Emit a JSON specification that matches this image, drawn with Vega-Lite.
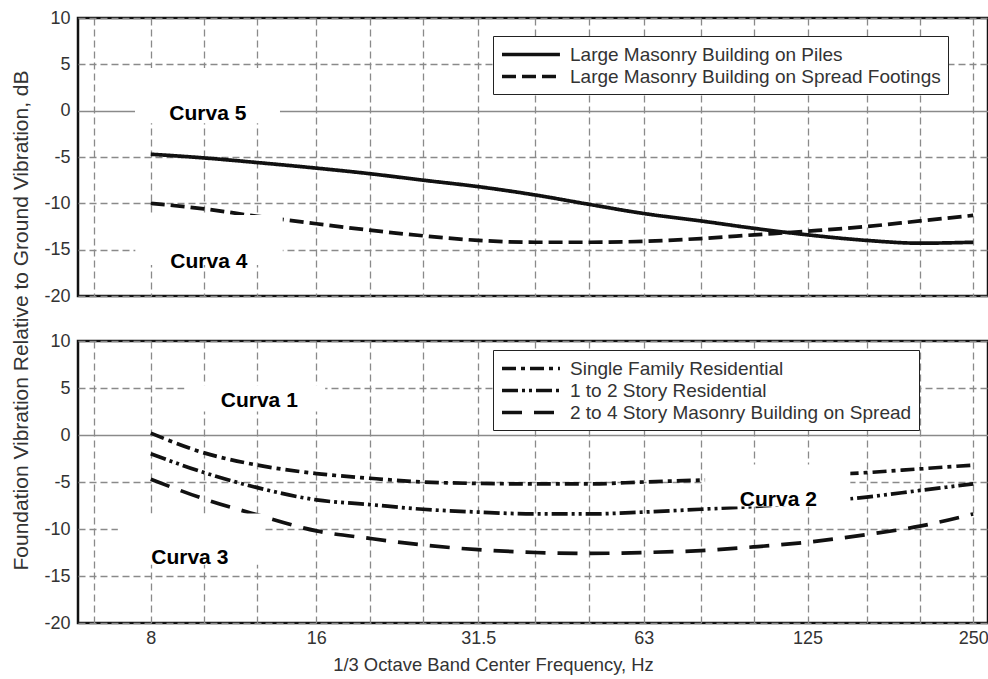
{
  "$schema": "https://vega.github.io/schema/vega-lite/v6.json",
  "padding": {"left": 8, "top": 7, "right": 3, "bottom": 5},
  "background": "white",
  "config": {
    "font": "Liberation Sans",
    "view": {"stroke": "#111", "strokeWidth": 2.5},
    "axis": {
      "labelFont": "Liberation Sans", "labelFontSize": 18, "labelColor": "#333",
      "ticks": false, "domain": false, "gridColor": "#8a8a8a", "gridWidth": 1.3,
      "titleFont": "Liberation Sans", "titleFontWeight": "normal", "titleColor": "#333",
      "labelOverlap": false, "labelFlush": false
    },
    "legend": {
      "orient": "none", "legendX": 415, "title": null,
      "symbolType": "M-1,0H5.1", "symbolSize": 361, "symbolStrokeWidth": 3.5, "symbolStrokeColor": "#111",
      "labelFont": "Liberation Sans", "labelFontSize": 19, "labelColor": "#333", "labelOffset": 47, "labelLimit": 700,
      "rowPadding": 0, "padding": 7, "strokeColor": "#222", "fillColor": "white"
    }
  },
  "datasets": {
    "curves": [
      {"panel":"top","series":"Large Masonry Building on Piles","freq":8,"db":-4.7},
      {"panel":"top","series":"Large Masonry Building on Piles","freq":10,"db":-5.1},
      {"panel":"top","series":"Large Masonry Building on Piles","freq":12.5,"db":-5.6},
      {"panel":"top","series":"Large Masonry Building on Piles","freq":16,"db":-6.2},
      {"panel":"top","series":"Large Masonry Building on Piles","freq":20,"db":-6.8},
      {"panel":"top","series":"Large Masonry Building on Piles","freq":25,"db":-7.5},
      {"panel":"top","series":"Large Masonry Building on Piles","freq":31.5,"db":-8.2},
      {"panel":"top","series":"Large Masonry Building on Piles","freq":40,"db":-9.1},
      {"panel":"top","series":"Large Masonry Building on Piles","freq":50,"db":-10.1},
      {"panel":"top","series":"Large Masonry Building on Piles","freq":63,"db":-11.1},
      {"panel":"top","series":"Large Masonry Building on Piles","freq":80,"db":-11.9},
      {"panel":"top","series":"Large Masonry Building on Piles","freq":100,"db":-12.7},
      {"panel":"top","series":"Large Masonry Building on Piles","freq":125,"db":-13.4},
      {"panel":"top","series":"Large Masonry Building on Piles","freq":160,"db":-14.0},
      {"panel":"top","series":"Large Masonry Building on Piles","freq":200,"db":-14.3},
      {"panel":"top","series":"Large Masonry Building on Piles","freq":250,"db":-14.2},
      {"panel":"top","series":"Large Masonry Building on Spread Footings","freq":8,"db":-10.0},
      {"panel":"top","series":"Large Masonry Building on Spread Footings","freq":10,"db":-10.6},
      {"panel":"top","series":"Large Masonry Building on Spread Footings","freq":12.5,"db":-11.4},
      {"panel":"top","series":"Large Masonry Building on Spread Footings","freq":16,"db":-12.2},
      {"panel":"top","series":"Large Masonry Building on Spread Footings","freq":20,"db":-12.9},
      {"panel":"top","series":"Large Masonry Building on Spread Footings","freq":25,"db":-13.5},
      {"panel":"top","series":"Large Masonry Building on Spread Footings","freq":31.5,"db":-14.0},
      {"panel":"top","series":"Large Masonry Building on Spread Footings","freq":40,"db":-14.2},
      {"panel":"top","series":"Large Masonry Building on Spread Footings","freq":50,"db":-14.2},
      {"panel":"top","series":"Large Masonry Building on Spread Footings","freq":63,"db":-14.1},
      {"panel":"top","series":"Large Masonry Building on Spread Footings","freq":80,"db":-13.8},
      {"panel":"top","series":"Large Masonry Building on Spread Footings","freq":100,"db":-13.4},
      {"panel":"top","series":"Large Masonry Building on Spread Footings","freq":125,"db":-13.0},
      {"panel":"top","series":"Large Masonry Building on Spread Footings","freq":160,"db":-12.5},
      {"panel":"top","series":"Large Masonry Building on Spread Footings","freq":200,"db":-11.9},
      {"panel":"top","series":"Large Masonry Building on Spread Footings","freq":250,"db":-11.3},
      {"panel":"bottom","series":"Single Family Residential","freq":8,"db":0.2},
      {"panel":"bottom","series":"Single Family Residential","freq":10,"db":-1.9},
      {"panel":"bottom","series":"Single Family Residential","freq":12.5,"db":-3.2},
      {"panel":"bottom","series":"Single Family Residential","freq":16,"db":-4.1},
      {"panel":"bottom","series":"Single Family Residential","freq":20,"db":-4.6},
      {"panel":"bottom","series":"Single Family Residential","freq":25,"db":-5.0},
      {"panel":"bottom","series":"Single Family Residential","freq":31.5,"db":-5.15},
      {"panel":"bottom","series":"Single Family Residential","freq":40,"db":-5.2},
      {"panel":"bottom","series":"Single Family Residential","freq":50,"db":-5.2},
      {"panel":"bottom","series":"Single Family Residential","freq":63,"db":-5.0},
      {"panel":"bottom","series":"Single Family Residential","freq":80,"db":-4.8},
      {"panel":"bottom","series":"Single Family Residential","freq":100,"db":-4.6},
      {"panel":"bottom","series":"Single Family Residential","freq":125,"db":-4.3},
      {"panel":"bottom","series":"Single Family Residential","freq":160,"db":-4.0},
      {"panel":"bottom","series":"Single Family Residential","freq":200,"db":-3.6},
      {"panel":"bottom","series":"Single Family Residential","freq":250,"db":-3.2},
      {"panel":"bottom","series":"1 to 2 Story Residential","freq":8,"db":-2.0},
      {"panel":"bottom","series":"1 to 2 Story Residential","freq":10,"db":-4.0},
      {"panel":"bottom","series":"1 to 2 Story Residential","freq":12.5,"db":-5.6},
      {"panel":"bottom","series":"1 to 2 Story Residential","freq":16,"db":-6.9},
      {"panel":"bottom","series":"1 to 2 Story Residential","freq":20,"db":-7.4},
      {"panel":"bottom","series":"1 to 2 Story Residential","freq":25,"db":-7.9},
      {"panel":"bottom","series":"1 to 2 Story Residential","freq":31.5,"db":-8.2},
      {"panel":"bottom","series":"1 to 2 Story Residential","freq":40,"db":-8.4},
      {"panel":"bottom","series":"1 to 2 Story Residential","freq":50,"db":-8.4},
      {"panel":"bottom","series":"1 to 2 Story Residential","freq":63,"db":-8.2},
      {"panel":"bottom","series":"1 to 2 Story Residential","freq":80,"db":-7.9},
      {"panel":"bottom","series":"1 to 2 Story Residential","freq":100,"db":-7.6},
      {"panel":"bottom","series":"1 to 2 Story Residential","freq":125,"db":-7.2},
      {"panel":"bottom","series":"1 to 2 Story Residential","freq":160,"db":-6.6},
      {"panel":"bottom","series":"1 to 2 Story Residential","freq":200,"db":-5.9},
      {"panel":"bottom","series":"1 to 2 Story Residential","freq":250,"db":-5.2},
      {"panel":"bottom","series":"2 to 4 Story Masonry Building on Spread","freq":8,"db":-4.7},
      {"panel":"bottom","series":"2 to 4 Story Masonry Building on Spread","freq":10,"db":-6.8},
      {"panel":"bottom","series":"2 to 4 Story Masonry Building on Spread","freq":12.5,"db":-8.5},
      {"panel":"bottom","series":"2 to 4 Story Masonry Building on Spread","freq":16,"db":-10.2},
      {"panel":"bottom","series":"2 to 4 Story Masonry Building on Spread","freq":20,"db":-11.0},
      {"panel":"bottom","series":"2 to 4 Story Masonry Building on Spread","freq":25,"db":-11.7},
      {"panel":"bottom","series":"2 to 4 Story Masonry Building on Spread","freq":31.5,"db":-12.2},
      {"panel":"bottom","series":"2 to 4 Story Masonry Building on Spread","freq":40,"db":-12.5},
      {"panel":"bottom","series":"2 to 4 Story Masonry Building on Spread","freq":50,"db":-12.6},
      {"panel":"bottom","series":"2 to 4 Story Masonry Building on Spread","freq":63,"db":-12.5},
      {"panel":"bottom","series":"2 to 4 Story Masonry Building on Spread","freq":80,"db":-12.3},
      {"panel":"bottom","series":"2 to 4 Story Masonry Building on Spread","freq":100,"db":-11.9},
      {"panel":"bottom","series":"2 to 4 Story Masonry Building on Spread","freq":125,"db":-11.4},
      {"panel":"bottom","series":"2 to 4 Story Masonry Building on Spread","freq":160,"db":-10.6},
      {"panel":"bottom","series":"2 to 4 Story Masonry Building on Spread","freq":200,"db":-9.7},
      {"panel":"bottom","series":"2 to 4 Story Masonry Building on Spread","freq":250,"db":-8.4}
    ],
    "notes": [
      {"panel":"top","label":"Curva 5","freq":10.16,"db":-1.0,"f1":7.49,"f2":13.74,"db1":4.6,"db2":-1.35},
      {"panel":"top","label":"Curva 4","freq":10.2,"db":-17.0,"f1":7.5,"f2":13.9,"db1":-11.25,"db2":-16.65},
      {"panel":"bottom","label":"Curva 1","freq":12.6,"db":3.0,"f1":9.21,"f2":16.6,"db1":5.3,"db2":2.5},
      {"panel":"bottom","label":"Curva 3","freq":9.42,"db":-13.7,"f1":6.97,"f2":12.79,"db1":-8.35,"db2":-13.8},
      {"panel":"bottom","label":"Curva 2","freq":110.6,"db":-7.5,"f1":81.4,"f2":149.5,"db1":-3.14,"db2":-7.6}
    ]
  },
  "bounds": "flush",
  "spacing": 45,
  "resolve": {"scale": {"strokeDash": "independent"}, "legend": {"strokeDash": "independent"}},
  "vconcat": [
    {
      "width": 910, "height": 278,
      "layer": [
        {
          "data": {"name": "curves"},
          "transform": [{"filter": "datum.panel === 'top'"}],
          "mark": {"type": "line", "interpolate": "monotone", "strokeWidth": 3.7, "color": "#111"},
          "encoding": {
            "x": {"field": "freq", "type": "quantitative", "title": null,
              "scale": {"type": "log", "domain": [5.9, 266], "nice": false},
              "axis": {"values": [6.3,8,10,12.5,16,20,25,31.5,40,50,63,80,100,125,160,200,250], "labels": false, "grid": true, "gridDash": [7,4]}},
            "y": {"field": "db", "type": "quantitative", "title": "Foundation Vibration Relative to Ground Vibration, dB",
              "scale": {"domain": [-20, 10], "nice": false},
              "axis": {"values": [-20,-15,-10,-5,0,5,10], "labelExpr": "datum.value + ''", "labelPadding": 8,
                "gridDash": {"condition": {"test": "datum.value === 0", "value": []}, "value": [7,4]},
                "titleX": -47, "titleY": 302, "titleFontSize": 21}},
            "strokeDash": {"field": "series", "type": "nominal",
              "scale": {"domain": ["Large Masonry Building on Piles", "Large Masonry Building on Spread Footings"], "range": [[1,0],[14,6]]},
              "legend": {"legendY": 18}}
          }
        },
        {
          "data": {"name": "notes"},
          "transform": [{"filter": "datum.panel === 'top'"}],
          "mark": {"type": "rect", "color": "white"},
          "encoding": {
            "x": {"field": "f1", "type": "quantitative", "title": null},
            "x2": {"field": "f2"},
            "y": {"field": "db1", "type": "quantitative", "title": "Foundation Vibration Relative to Ground Vibration, dB"},
            "y2": {"field": "db2"}
          }
        },
        {
          "data": {"name": "notes"},
          "transform": [{"filter": "datum.panel === 'top'"}],
          "mark": {"type": "text", "fontWeight": "bold", "fontSize": 21, "baseline": "alphabetic", "align": "center", "color": "black", "font": "Liberation Sans"},
          "encoding": {
            "x": {"field": "freq", "type": "quantitative", "title": null},
            "y": {"field": "db", "type": "quantitative", "title": "Foundation Vibration Relative to Ground Vibration, dB"},
            "text": {"field": "label"}
          }
        }
      ]
    },
    {
      "width": 910, "height": 282,
      "layer": [
        {
          "data": {"name": "curves"},
          "transform": [{"filter": "datum.panel === 'bottom'"}],
          "mark": {"type": "line", "interpolate": "monotone", "strokeWidth": 3.7, "color": "#111"},
          "encoding": {
            "x": {"field": "freq", "type": "quantitative", "title": "1/3 Octave Band Center Frequency, Hz",
              "scale": {"type": "log", "domain": [5.9, 266], "nice": false},
              "axis": {"values": [6.3,8,10,12.5,16,20,25,31.5,40,50,63,80,100,125,160,200,250], "grid": true, "gridDash": [7,4],
                "labelExpr": "indexof([8,16,31.5,63,125,250], datum.value) >= 0 ? datum.value + '' : ''",
                "labelPadding": 6, "titleFontSize": 18.4, "titlePadding": 8, "titleX": 415}},
            "y": {"field": "db", "type": "quantitative", "title": null,
              "scale": {"domain": [-20, 10], "nice": false},
              "axis": {"values": [-20,-15,-10,-5,0,5,10], "labelExpr": "datum.value + ''", "labelPadding": 8,
                "gridDash": {"condition": {"test": "datum.value === 0", "value": []}, "value": [7,4]}}},
            "strokeDash": {"field": "series", "type": "nominal",
              "scale": {"domain": ["Single Family Residential", "1 to 2 Story Residential", "2 to 4 Story Masonry Building on Spread"], "range": [[14,5,4,5],[16,4,3,4,3,4],[20,12]]},
              "legend": {"legendY": 9}}
          }
        },
        {
          "data": {"name": "notes"},
          "transform": [{"filter": "datum.panel === 'bottom'"}],
          "mark": {"type": "rect", "color": "white"},
          "encoding": {
            "x": {"field": "f1", "type": "quantitative", "title": "1/3 Octave Band Center Frequency, Hz"},
            "x2": {"field": "f2"},
            "y": {"field": "db1", "type": "quantitative", "title": null},
            "y2": {"field": "db2"}
          }
        },
        {
          "data": {"name": "notes"},
          "transform": [{"filter": "datum.panel === 'bottom'"}],
          "mark": {"type": "text", "fontWeight": "bold", "fontSize": 21, "baseline": "alphabetic", "align": "center", "color": "black", "font": "Liberation Sans"},
          "encoding": {
            "x": {"field": "freq", "type": "quantitative", "title": "1/3 Octave Band Center Frequency, Hz"},
            "y": {"field": "db", "type": "quantitative", "title": null},
            "text": {"field": "label"}
          }
        }
      ]
    }
  ]
}
